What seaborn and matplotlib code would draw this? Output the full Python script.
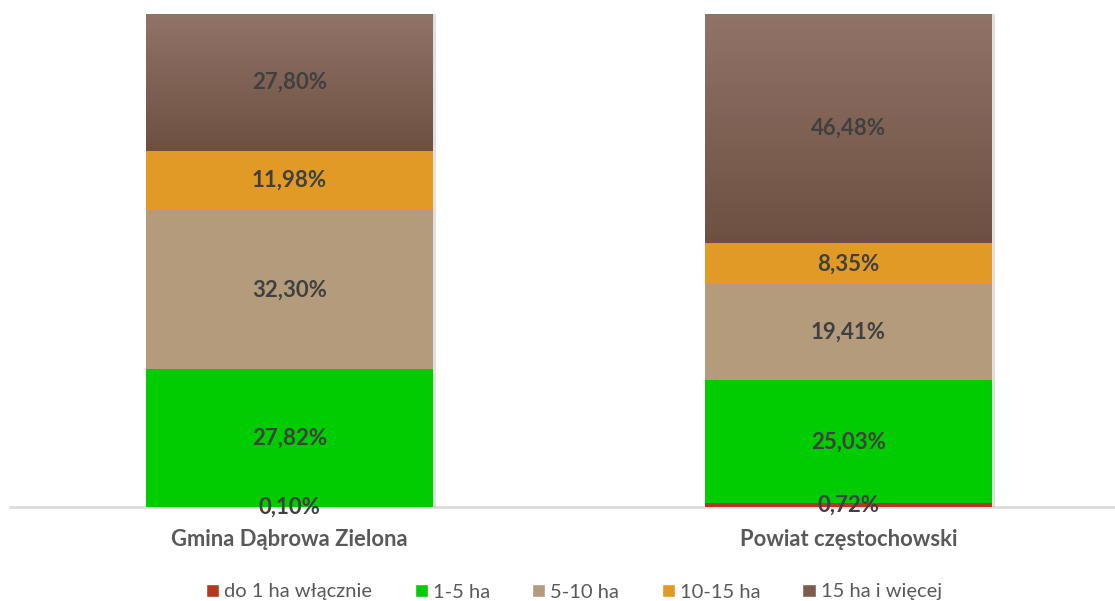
import numpy as np
import matplotlib.pyplot as plt
import matplotlib.patheffects as pe
from matplotlib.colors import LinearSegmentedColormap
from matplotlib.patches import Patch
import pandas as pd
import seaborn as sns

# data
regions = ["Gmina Dąbrowa Zielona", "Powiat częstochowski"]
groups = ["do 1 ha włącznie", "1-5 ha", "5-10 ha", "10-15 ha", "15 ha i więcej"]
gmina = [0.10, 27.82, 32.30, 11.98, 27.80]
powiat = [0.72, 25.03, 19.41, 8.35, 46.48]
colors = ["#B33A1E", "#00CC00", "#B39B7B", "#E09A25", "#7E5B4C"]

df = pd.DataFrame({"region": np.repeat(regions, len(groups)),
                   "group": groups * len(regions),
                   "share": gmina + powiat})

sns.set_style("white")
plt.rcParams['font.family'] = ['Lato', 'DejaVu Sans']

fig = plt.figure(figsize=(11.15, 6.01), dpi=100)
ax = fig.add_axes([10 / 1115, 94 / 601, 1105 / 1115, 493 / 601])

bottom = np.zeros(len(regions))
for g, c in zip(groups, colors):
    vals = df[df.group == g].set_index("region").loc[regions, "share"].values
    sns.barplot(x=regions, y=vals, color=c, width=0.513, bottom=bottom,
                ax=ax, saturation=1, linewidth=0, zorder=2)
    for i, v in enumerate(vals):
        ax.text(i, bottom[i] + v / 2, f"{v:.2f}%".replace(".", ","),
                ha="center", va="center", fontsize=16, fontweight="bold",
                color="#404040", zorder=5)
    bottom += vals

# soft shadow on the right side of the columns
for bar in ax.patches:
    bar.set_path_effects([pe.SimplePatchShadow(offset=(2.5, 0), shadow_rgbFace="#000000",
                                               alpha=0.12), pe.Normal()])

# gradient on the top (brown) segments
brown = LinearSegmentedColormap.from_list("brown", ["#6E5041", "#917468"])
grad = np.linspace(0, 1, 256).reshape(-1, 1)
for bar in ax.patches[-len(regions):]:
    x0, y0 = bar.get_x(), bar.get_y()
    w, h = bar.get_width(), bar.get_height()
    im = ax.imshow(grad, cmap=brown, origin="lower", aspect="auto",
                   extent=[x0, x0 + w, y0, y0 + h], zorder=3)
    im.set_clip_path(bar)
ax.set_xlim(-0.5, (1115 - 289.5) / 559)
ax.set_ylim(0, 100)

ax.set_yticks([])
ax.set_ylabel("")
ax.tick_params(axis="x", length=0, pad=16)
for lbl in ax.get_xticklabels():
    lbl.set_fontsize(15.8)
    lbl.set_fontweight("bold")
    lbl.set_color("#595959")
for s in ["top", "right", "left"]:
    ax.spines[s].set_visible(False)
ax.spines["bottom"].set_color("#D9D9D9")
ax.spines["bottom"].set_linewidth(1.8)
ax.spines["bottom"].set_zorder(1)

handles = [Patch(facecolor=c, label=g) for g, c in zip(groups, colors)]
fig.legend(handles=handles, loc="center", bbox_to_anchor=(574 / 1115, 1 - 592 / 601),
           ncol=5, frameon=False, fontsize=14.5, handlelength=0.65, handleheight=0.65,
           handletextpad=0.25, columnspacing=2.1, labelcolor="#595959")

fig.savefig("out.png", dpi=100)
